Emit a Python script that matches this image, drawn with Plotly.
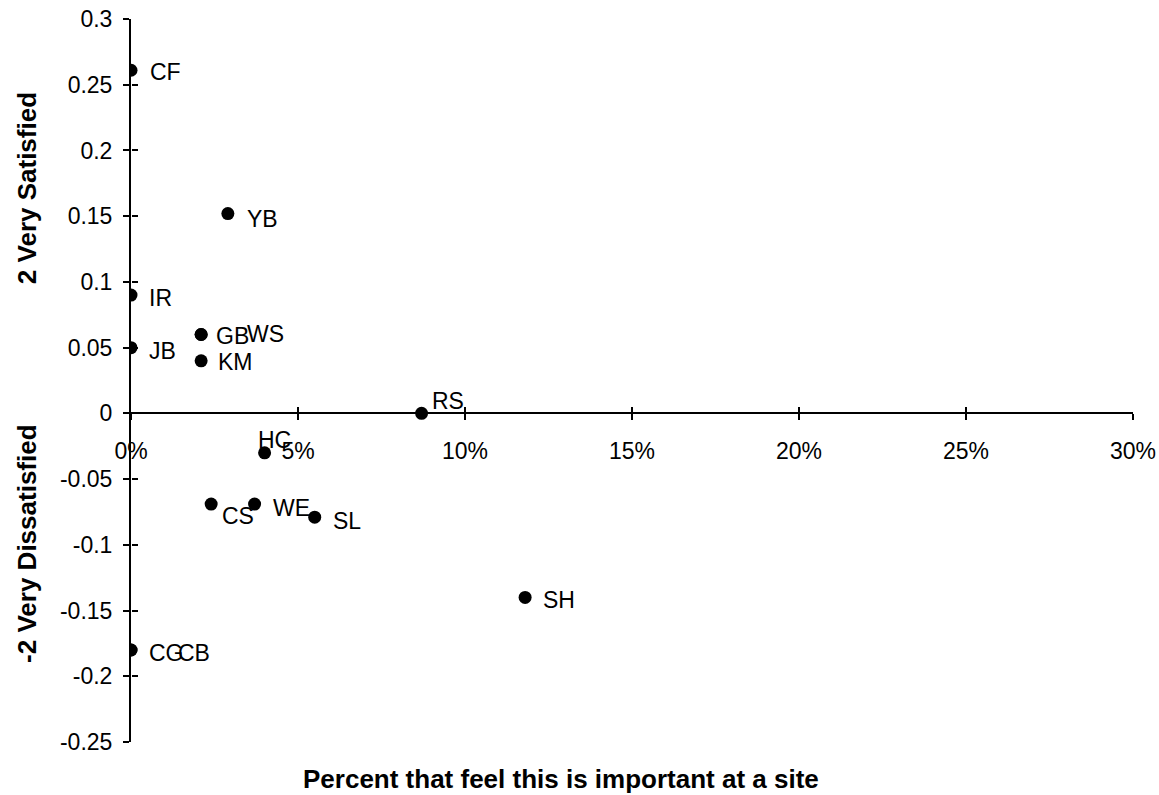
import plotly.graph_objects as go

# ---- data ----
labels = ["CF", "YB", "IR", "JB", "GB", "WS", "KM", "RS", "HC", "CS", "WE", "SL", "SH", "CG", "CB"]
pct_important = [0.0, 0.029, 0.0, 0.0, 0.021, 0.021, 0.021, 0.087, 0.040, 0.024, 0.037, 0.055, 0.118, 0.0, 0.0]
satisfaction = [0.261, 0.152, 0.09, 0.05, 0.06, 0.06, 0.04, 0.0, -0.03, -0.069, -0.069, -0.079, -0.14, -0.18, -0.18]

x_tick_vals = [0.0, 0.05, 0.10, 0.15, 0.20, 0.25, 0.30]
x_tick_labels = ["0%", "5%", "10%", "15%", "20%", "25%", "30%"]
y_tick_vals = [0.3, 0.25, 0.2, 0.15, 0.1, 0.05, 0.0, -0.05, -0.1, -0.15, -0.2, -0.25]
y_tick_labels = ["0.3", "0.25", "0.2", "0.15", "0.1", "0.05", "0", "-0.05", "-0.1", "-0.15", "-0.2", "-0.25"]

x_title = "Percent that feel this is important at a site"
y_title_top = "2 Very Satisfied"
y_title_bottom = "-2 Very Dissatisfied"

# ---- styling ----
FONT = "Liberation Sans, Arial, sans-serif"
X_RANGE = [0.0, 0.30]
Y_RANGE = [-0.25, 0.30]
X_AXIS_POS = (0 - Y_RANGE[0]) / (Y_RANGE[1] - Y_RANGE[0])

DEFAULT_OFFSET = (16, -3)
LABEL_OFFSETS = {
    "CF": (17, -2), "YB": (17, -5), "GB": (13, -2), "WS": (44, 0), "KM": (15, -1),
    "RS": (8, 12), "HC": (-9, 13), "CS": (9, -12), "WE": (16, -4), "SL": (16, -4),
    "CB": (45, -3),
}

fig = go.Figure()
fig.add_trace(go.Scatter(
    x=pct_important, y=satisfaction, mode="markers",
    marker=dict(color="black", size=13, line=dict(width=0)),
    hoverinfo="skip", showlegend=False,
))
# empty helper trace so the overlay axes (inside half of crossing ticks) get drawn
fig.add_trace(go.Scatter(x=[], y=[], xaxis="x2", yaxis="y2", showlegend=False, hoverinfo="skip"))

annotations = []
for lab, xv, yv in zip(labels, pct_important, satisfaction):
    dx, dy = LABEL_OFFSETS.get(lab, DEFAULT_OFFSET)
    annotations.append(dict(
        x=xv, y=yv, xref="x", yref="y", text=lab, showarrow=False,
        xanchor="left", yanchor="middle", xshift=dx, yshift=dy,
        font=dict(family=FONT, size=23, color="black"),
    ))

title_font = dict(family=FONT, size=26, color="black")
annotations.append(dict(
    x=0.429, y=-0.0512, xref="paper", yref="paper", text="<b>%s</b>" % x_title,
    showarrow=False, xanchor="center", yanchor="middle", font=title_font,
))
annotations.append(dict(
    x=-0.1038, y=0.766, xref="paper", yref="paper", text="<b>%s</b>" % y_title_top,
    showarrow=False, xanchor="center", yanchor="middle", textangle=-90, font=title_font,
))
annotations.append(dict(
    x=-0.1038, y=0.274, xref="paper", yref="paper", text="<b>%s</b>" % y_title_bottom,
    showarrow=False, xanchor="center", yanchor="middle", textangle=-90, font=title_font,
))

tick_font = dict(family=FONT, size=23, color="black")
fig.update_layout(
    width=1159, height=795,
    margin=dict(l=131, r=26, t=19, b=53, autoexpand=False),
    paper_bgcolor="white", plot_bgcolor="white",
    showlegend=False,
    annotations=annotations,
    xaxis=dict(
        range=X_RANGE, anchor="free", position=X_AXIS_POS, automargin=False,
        showline=True, linecolor="black", linewidth=2,
        ticks="outside", ticklen=6, tickwidth=2, tickcolor="black",
        tickvals=x_tick_vals, ticktext=x_tick_labels, tickfont=tick_font,
        ticklabelstandoff=11,
        showgrid=False, zeroline=False,
    ),
    yaxis=dict(
        range=Y_RANGE, anchor="x", automargin=False,
        showline=True, linecolor="black", linewidth=2,
        ticks="outside", ticklen=6, tickwidth=2, tickcolor="black",
        tickvals=y_tick_vals, ticktext=y_tick_labels, tickfont=tick_font,
        ticklabelstandoff=6,
        showgrid=False, zeroline=False,
    ),
    xaxis2=dict(
        range=X_RANGE, overlaying="x", anchor="free", position=X_AXIS_POS, automargin=False,
        showline=False, ticks="inside", ticklen=6, tickwidth=2, tickcolor="black",
        tickvals=x_tick_vals, showticklabels=False, showgrid=False, zeroline=False,
    ),
    yaxis2=dict(
        range=Y_RANGE, overlaying="y", anchor="free", position=0, automargin=False,
        showline=False, ticks="inside", ticklen=6, tickwidth=2, tickcolor="black",
        tickvals=y_tick_vals, showticklabels=False, showgrid=False, zeroline=False,
    ),
)

fig.write_html(
    "out.html",
    config={"displayModeBar": False},
    post_script="document.body.style.margin='0';document.body.style.overflow='hidden';",
)
